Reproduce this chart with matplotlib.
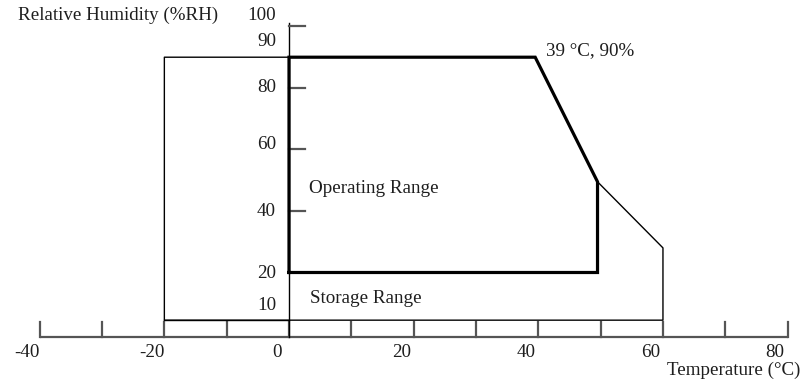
import matplotlib.pyplot as plt

plt.rcParams['font.family'] = ['Liberation Serif', 'DejaVu Serif']

# temperature (C) / humidity (%RH) envelopes
op_temp = [0, 0, 39.5, 49.5, 49.5, 0]
op_rh = [20, 90, 90, 49.5, 20, 20]
st_temp = [0, -20, -20, 60, 60, 49.5]
st_rh = [90, 90, 4.5, 4.5, 28, 49.5]

x_ticks = [-40, -30, -20, -10, 0, 10, 20, 30, 40, 50, 60, 70, 80]
x_labels = [-40, -20, 0, 20, 40, 60, 80]
y_ticks = [100, 80, 60, 40]
y_labels = ['100', '90', '80', '60', '40', '20', '10']
y_label_pos = [103.7, 95, 80.3, 61.5, 39.7, 19.8, 9.4]

fig = plt.figure(figsize=(8.05, 3.81), dpi=100)
ax = fig.add_axes([0, 0, 1, 1])
ax.set_xlim(-46.37, 82.79)
ax.set_ylim(-15.28, 108.6)
ax.axis('off')

fs = 13.7
grey = '#555555'
txt = '#1e1e1e'

# x axis with upward ticks
ax.plot([x_ticks[0], x_ticks[-1]], [-1, -1], color=grey, lw=1.6, solid_capstyle='butt')
for t in x_ticks:
    ax.plot([t, t], [-1, 3.9], color=grey, lw=1.6)
for v in x_labels:
    ax.text(v - 2, -6, str(v), ha='center', va='center', fontsize=fs, color=txt)

# y axis
ax.plot([0, 0], [-1, 101], color='black', lw=1.0)
for v in y_ticks:
    ax.plot([0, 2.6], [v, v], color=grey, lw=1.6)
for lab, p in zip(y_labels, y_label_pos):
    ax.text(-2.1, p, lab, ha='right', va='center', fontsize=fs, color=txt)

# storage envelope (thin) and operating envelope (thick)
ax.plot(st_temp, st_rh, color='black', lw=1.0)
ax.plot([-20, 0], [4.5, 4.5], color='black', lw=1.0)
ax.plot(op_temp, op_rh, color='black', lw=2.3, solid_joinstyle='miter')

ax.text(-43.5, 103.7, 'Relative Humidity (%RH)', ha='left', va='center', fontsize=fs, color=txt)
ax.text(41.2, 92.1, '39 \u00b0C, 90%', ha='left', va='center', fontsize=fs, color=txt)
ax.text(3.2, 47.2, 'Operating Range', ha='left', va='center', fontsize=fs, color=txt)
ax.text(3.4, 11.7, 'Storage Range', ha='left', va='center', fontsize=fs, color=txt)
ax.text(82.0, -11.8, 'Temperature (\u00b0C)', ha='right', va='center', fontsize=fs, color=txt)

fig.savefig('out.png', dpi=100)
